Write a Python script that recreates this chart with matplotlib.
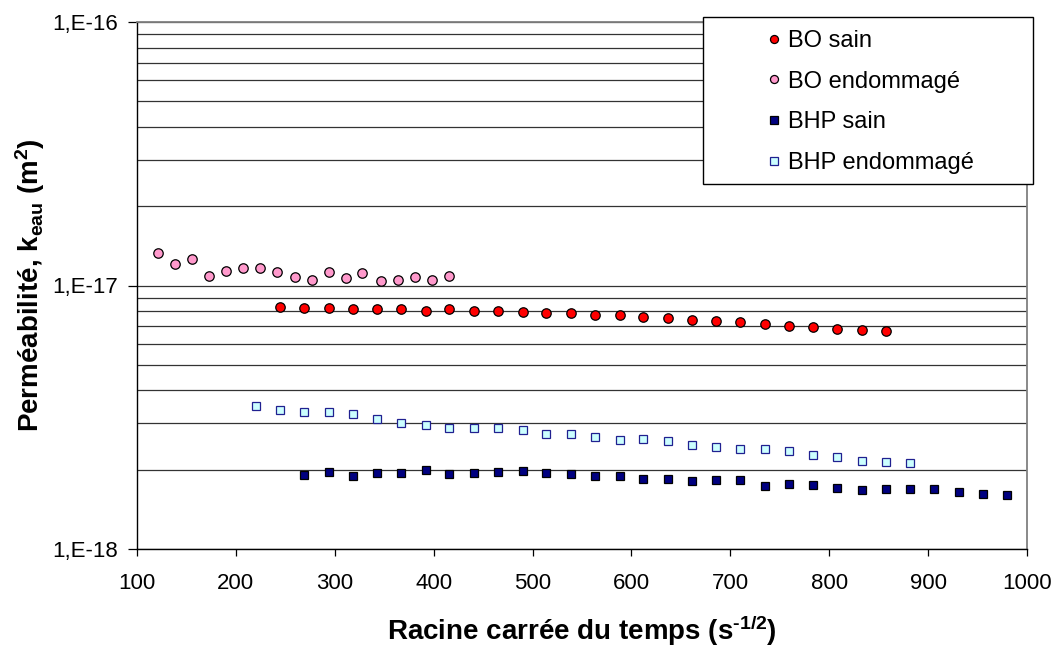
import matplotlib
matplotlib.use("Agg")
import matplotlib.pyplot as plt
from matplotlib.ticker import LogLocator, FixedLocator, NullFormatter, FixedFormatter
from matplotlib.patches import Rectangle

plt.rcParams['font.family'] = ['Liberation Sans', 'DejaVu Sans']
plt.rcParams['mathtext.fontset'] = 'custom'
plt.rcParams['mathtext.rm'] = 'Liberation Sans:bold'
plt.rcParams['mathtext.bf'] = 'Liberation Sans:bold'
plt.rcParams['mathtext.it'] = 'Liberation Sans:bold'
plt.rcParams['mathtext.default'] = 'bf'

# ---- data ----
bo_endo_x = [121, 138, 156, 173, 190, 207, 224, 242, 260, 277, 294, 311, 328, 347, 364, 381, 398, 415]
bo_endo_y = [1.325e-17, 1.207e-17, 1.264e-17, 1.086e-17, 1.132e-17, 1.165e-17, 1.165e-17, 1.125e-17,
             1.080e-17, 1.049e-17, 1.125e-17, 1.068e-17, 1.112e-17, 1.043e-17, 1.049e-17, 1.074e-17,
             1.049e-17, 1.086e-17]

bo_sain_x = [245, 269, 294, 318, 343, 367, 392, 416, 441, 465, 490, 514, 539, 563, 588, 612, 637,
             661, 686, 710, 735, 759, 784, 808, 833, 857]
bo_sain_y = [8.27e-18, 8.19e-18, 8.19e-18, 8.14e-18, 8.17e-18, 8.14e-18, 8.02e-18, 8.12e-18, 8.00e-18,
             7.97e-18, 7.93e-18, 7.87e-18, 7.83e-18, 7.76e-18, 7.70e-18, 7.60e-18, 7.53e-18, 7.42e-18,
             7.34e-18, 7.25e-18, 7.15e-18, 7.04e-18, 6.94e-18, 6.82e-18, 6.78e-18, 6.70e-18]

bhp_endo_x = [220, 245, 269, 294, 318, 343, 367, 392, 416, 441, 465, 490, 514, 539, 563, 588, 612,
              637, 661, 686, 710, 735, 759, 784, 808, 833, 857, 882]
bhp_endo_y = [3.49e-18, 3.37e-18, 3.31e-18, 3.30e-18, 3.25e-18, 3.11e-18, 3.01e-18, 2.96e-18, 2.88e-18,
              2.89e-18, 2.88e-18, 2.83e-18, 2.73e-18, 2.72e-18, 2.66e-18, 2.59e-18, 2.61e-18, 2.56e-18,
              2.49e-18, 2.44e-18, 2.39e-18, 2.39e-18, 2.35e-18, 2.27e-18, 2.23e-18, 2.16e-18, 2.13e-18,
              2.12e-18]

bhp_sain_x = [269, 294, 318, 343, 367, 392, 416, 441, 465, 490, 514, 539, 563, 588, 612, 637, 661,
              686, 710, 735, 759, 784, 808, 833, 857, 882, 906, 931, 955, 980]
bhp_sain_y = [1.91e-18, 1.96e-18, 1.90e-18, 1.95e-18, 1.95e-18, 1.99e-18, 1.93e-18, 1.95e-18, 1.96e-18,
              1.98e-18, 1.95e-18, 1.93e-18, 1.89e-18, 1.90e-18, 1.85e-18, 1.84e-18, 1.81e-18, 1.82e-18,
              1.83e-18, 1.74e-18, 1.77e-18, 1.75e-18, 1.70e-18, 1.68e-18, 1.69e-18, 1.69e-18, 1.69e-18,
              1.64e-18, 1.62e-18, 1.61e-18]

series_labels = ['BO sain', 'BO endommagé', 'BHP sain', 'BHP endommagé']
x_ticks = [100, 200, 300, 400, 500, 600, 700, 800, 900, 1000]
y_ticks = [1e-18, 1e-17, 1e-16]
y_tick_labels = ['1,E-18', '1,E-17', '1,E-16']
x_label = 'Racine carrée du temps (s$^{\u20101/2}$)'
y_label = 'Perméabilité, k$_{eau}$ (m$^{2}$)'

# ---- figure ----
W, H = 1056, 646
fig = plt.figure(figsize=(W / 100, H / 100), dpi=100)
ax = fig.add_axes([137 / W, 1 - 549 / H, (1027 - 137) / W, (549 - 22) / H])

ax.set_yscale('log')
ax.set_xlim(100, 1000)
ax.set_ylim(1e-18, 1e-16)

FS_TICK = 16
FS_LEG = 17
FS_TITLE = 20
styles = {
    'BO sain': dict(marker='o', ms=6.8, mfc='#FF0000', mec='#000000'),
    'BO endommagé': dict(marker='o', ms=6.8, mfc='#FF99CC', mec='#000000'),
    'BHP sain': dict(marker='s', ms=6.0, mfc='#000080', mec='#000000'),
    'BHP endommagé': dict(marker='s', ms=6.0, mfc='#CCFFFF', mec='#202090'),
}
data = {
    'BO sain': (bo_sain_x, bo_sain_y),
    'BO endommagé': (bo_endo_x, bo_endo_y),
    'BHP sain': (bhp_sain_x, bhp_sain_y),
    'BHP endommagé': (bhp_endo_x, bhp_endo_y),
}
handles = []
for lab in series_labels:
    xs, ys = data[lab]
    st = styles[lab]
    h, = ax.plot(xs, ys, linestyle='none', mew=0.9, zorder=3, label=lab, **st)
    handles.append(h)

# grid lines (major + minor horizontal)
ax.yaxis.set_major_locator(FixedLocator(y_ticks))
ax.yaxis.set_major_formatter(FixedFormatter(y_tick_labels))
ax.yaxis.set_minor_locator(LogLocator(base=10, subs=range(2, 10)))
ax.yaxis.set_minor_formatter(NullFormatter())
ax.grid(True, axis='y', which='both', color='#333333', linewidth=0.9, zorder=1)
ax.set_axisbelow(True)

ax.set_xticks(x_ticks)
ax.tick_params(axis='x', which='major', direction='out', length=5, width=0.9, pad=12, labelsize=FS_TICK)
ax.tick_params(axis='y', which='major', direction='out', length=6.5, width=0.9, pad=7, labelsize=FS_TICK)
ax.tick_params(axis='y', which='minor', length=0)

for s in ['left', 'bottom']:
    ax.spines[s].set_color('#000000')
    ax.spines[s].set_linewidth(1.0)
for s in ['right', 'top']:
    ax.spines[s].set_color('#808080')
    ax.spines[s].set_linewidth(1.3)

ax.set_xlabel(x_label, fontsize=FS_TITLE, fontweight='bold', labelpad=14)
ax.set_ylabel(y_label, fontsize=FS_TITLE, fontweight='bold', labelpad=4)

# legend frame
rect = Rectangle((703 / W, 1 - 184 / H), (1033 - 703) / W, (184 - 17) / H,
                 transform=fig.transFigure, facecolor='white', edgecolor='black',
                 linewidth=1.0, zorder=10)
fig.patches.append(rect)
leg = fig.legend(handles, series_labels, loc='upper left',
                 bbox_to_anchor=(767 / W, 1 - 30 / H), bbox_transform=fig.transFigure,
                 frameon=False, fontsize=FS_LEG, handlelength=0.6, handletextpad=0.3,
                 labelspacing=0.79, borderpad=0, borderaxespad=0, markerscale=0.85)
leg.set_zorder(11)

fig.savefig('out.png', dpi=100)
